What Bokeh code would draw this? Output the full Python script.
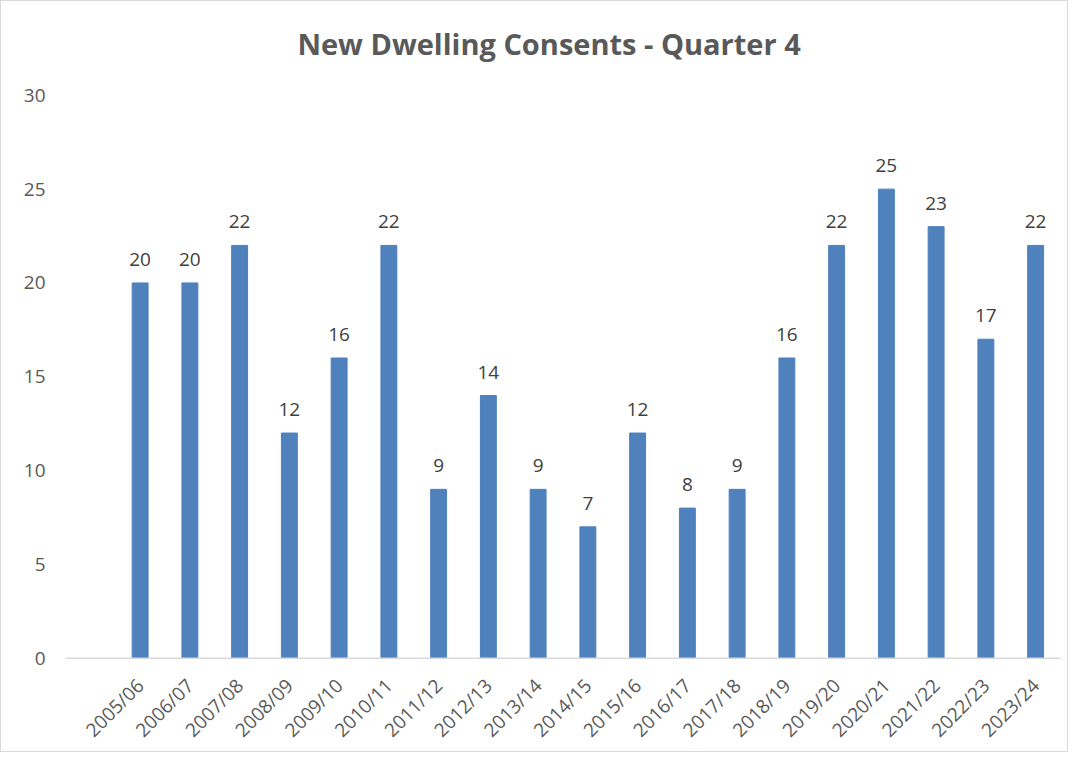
import math
from bokeh.plotting import figure
from bokeh.models import ColumnDataSource, FactorRange, Range1d, FixedTicker, LabelSet, Span
from bokeh.core.properties import value
from bokeh.embed import file_html
from bokeh.resources import INLINE

title = "New Dwelling Consents - Quarter 4"
categories = ["2005/06", "2006/07", "2007/08", "2008/09", "2009/10", "2010/11",
              "2011/12", "2012/13", "2013/14", "2014/15", "2015/16", "2016/17",
              "2017/18", "2018/19", "2019/20", "2020/21", "2021/22", "2022/23",
              "2023/24"]
values = [20, 20, 22, 12, 16, 22, 9, 14, 9, 7, 12, 8, 9, 16, 22, 25, 23, 17, 22]
y_ticks = [0, 5, 10, 15, 20, 25, 30]

factors = [" "] + categories
src = ColumnDataSource(dict(x=categories, y=values, label=[str(v) for v in values],
                            zero=[0] * len(values)))

FONT = "Open Sans"
# frame spans the whole figure so that title and category labels can be drawn inside it
p = figure(width=1068, height=752, x_range=FactorRange(*factors, range_padding=0),
           y_range=Range1d(-4.6, 35.0), output_backend="svg", toolbar_location=None,
           min_border_top=0, min_border_left=64, min_border_right=9, min_border_bottom=9)
p.styles = {"border": "1px solid #D9D9D9"}

p.text(x=[categories[3]], y=[32.76], text=[title], text_align="left",
       text_baseline="alphabetic", x_offset=8, text_font=value(FONT),
       text_font_size="29px", text_font_style="bold", text_color="#595959")

p.vbar(x="x", top="y", width=0.32, source=src, fill_color="#4F81BD", line_color="#4F81BD")
p.add_layout(Span(location=0, dimension="width", line_color="#D9D9D9", line_width=1.5))

labels = LabelSet(x="x", y="y", text="label", source=src, text_align="center",
                  text_baseline="alphabetic", y_offset=17, text_font=value(FONT),
                  text_font_size="19px", text_color="#404040")
p.add_layout(labels)

xlabels = LabelSet(x="x", y="zero", text="x", source=src, text_align="right",
                   text_baseline="middle", angle=math.pi / 4, x_offset=0, y_offset=-24,
                   text_font=value(FONT), text_font_size="19px", text_color="#595959")
p.add_layout(xlabels)

p.xgrid.grid_line_color = None
p.ygrid.grid_line_color = None
p.outline_line_color = None
p.xaxis.visible = False

p.yaxis.ticker = FixedTicker(ticks=y_ticks)
p.yaxis.axis_line_color = None
p.yaxis.major_tick_line_color = None
p.yaxis.minor_tick_line_color = None
p.yaxis.major_label_text_font = FONT
p.yaxis.major_label_text_font_size = "19px"
p.yaxis.major_label_text_color = "#595959"
p.yaxis.major_label_standoff = 14

open("out.html", "w").write(file_html(p, INLINE))
